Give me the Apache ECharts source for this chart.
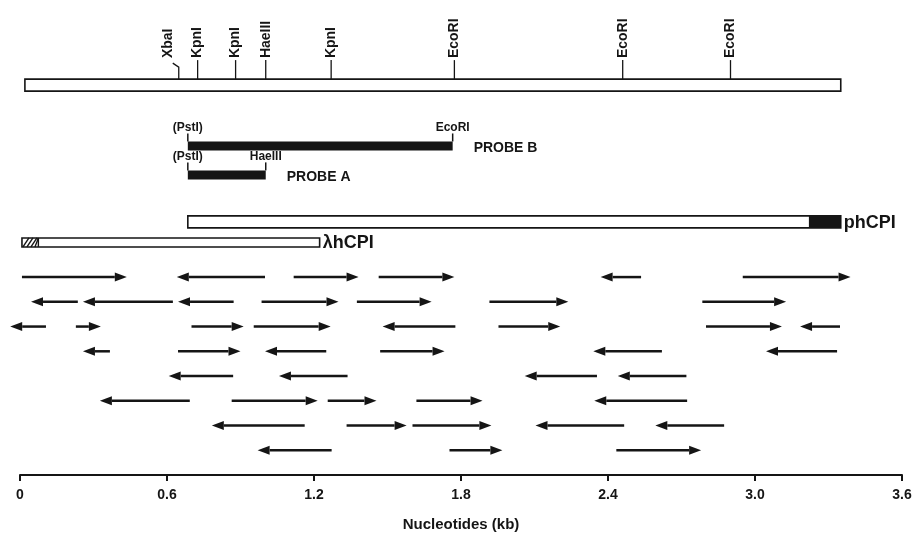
<!DOCTYPE html>
<html>
<head>
<meta charset="utf-8">
<script src="https://cdn.jsdelivr.net/npm/echarts@6/dist/echarts.min.js"></script>
<style>
  html, body { margin: 0; background: #fff; }
  #chart { width: 915px; height: 535px; }
</style>
</head>
<body>
<div id="chart"></div>
<script>
  // restriction sites on the genomic map (kb)
  const siteNames = ['XbaI', 'KpnI', 'KpnI', 'HaeIII', 'KpnI', 'EcoRI', 'EcoRI', 'EcoRI']
  const sitePos = [0.648, 0.725, 0.88, 1.003, 1.27, 1.773, 2.46, 2.9]
  const mapRange = [0.02, 3.35]

  // probes: [start, end] and their end labels
  const probeB = [0.685, 1.766]
  const probeBEnds = ['(PstI)', 'EcoRI']
  const probeA = [0.685, 1.003]
  const probeAEnds = ['(PstI)', 'HaeIII']

  // clones: open part then solid / hatched part
  const phCPI = [0.685, 3.22, 3.35]
  const lambdaHCPI = [0.008, 0.075, 1.223]

  // sequencing runs, one list per row from the top, each [tail, head] in kb
  const arrowRows = [
    [[0.008, 0.436], [1.0, 0.64], [1.117, 1.382], [1.464, 1.773], [2.535, 2.37], [2.95, 3.39]],
    [[0.236, 0.045], [0.624, 0.257], [0.872, 0.645], [0.986, 1.3], [1.375, 1.68], [1.916, 2.238], [2.785, 3.127]],
    [[0.106, -0.04], [0.228, 0.33], [0.7, 0.913], [0.954, 1.268], [1.777, 1.48], [1.953, 2.205], [2.8, 3.11], [3.347, 3.184]],
    [[0.367, 0.257], [0.645, 0.9], [1.25, 1.0], [1.47, 1.733], [2.62, 2.34], [3.335, 3.045]],
    [[0.87, 0.607], [1.337, 1.057], [2.355, 2.06], [2.72, 2.44]],
    [[0.693, 0.326], [0.864, 1.215], [1.256, 1.455], [1.618, 1.888], [2.723, 2.344]],
    [[1.162, 0.783], [1.333, 1.578], [1.602, 1.924], [2.466, 2.104], [2.874, 2.593]],
    [[1.272, 0.97], [1.753, 1.969], [2.434, 2.78]]
  ]

  const xTicks = [0, 0.6, 1.2, 1.8, 2.4, 3.0, 3.6]

  // vertical lanes (track index, bottom = axis)
  const lane = { map: 15.76, probeB: 13.3, probeA: 12.13, phCPI: 10.23, lambda: 9.4 }

  const INK = '#151515'
  const FONT = '"Liberation Sans", Arial, Helvetica, sans-serif'

  const arrowData = []
  arrowRows.forEach((row, r) => {
    row.forEach(a => arrowData.push([a[0], a[1], arrowRows.length - r]))
  })

  const chart = echarts.init(document.getElementById('chart'))

  chart.setOption({
    animation: false,
    grid: { left: 20, right: 13, top: 0, bottom: 60, containLabel: false, outerBoundsMode: 'none' },
    xAxis: {
      type: 'value',
      min: xTicks[0],
      max: xTicks[xTicks.length - 1],
      interval: 0.6,
      splitLine: { show: false },
      axisLine: { lineStyle: { color: INK, width: 2 } },
      axisTick: { length: 6, lineStyle: { color: INK, width: 2 } },
      axisLabel: {
        color: INK, fontFamily: FONT, fontWeight: 'bold', fontSize: 14, margin: 13,
        formatter: v => (v === 0 ? '0' : v.toFixed(1))
      },
      name: 'Nucleotides (kb)',
      nameLocation: 'middle',
      nameGap: 42,
      nameTextStyle: { color: INK, fontFamily: FONT, fontWeight: 'bold', fontSize: 15 }
    },
    yAxis: { type: 'value', min: 0, max: 19.2, show: false },
    series: [
      {
        // genomic map bar + sites
        type: 'custom',
        data: sitePos.map((p, i) => [p, lane.map, i]),
        encode: { x: 0, y: 1 },
        renderItem: (params, api) => {
          const i = params.dataIndex
          const c = api.coord([api.value(0), api.value(1)])
          const top = c[1] - 6
          const children = []
          if (i === 0) {
            const a = api.coord([mapRange[0], lane.map])
            const b = api.coord([mapRange[1], lane.map])
            children.push({
              type: 'rect', z2: 1,
              shape: { x: a[0], y: a[1] - 6, width: b[0] - a[0], height: 12 },
              style: { fill: '#fff', stroke: INK, lineWidth: 1.6 }
            })
          }
          const shift = i === 0 ? -11 : 0
          const pts = shift
            ? [[c[0], top], [c[0], top - 12], [c[0] + shift + 5, top - 16]]
            : [[c[0], top], [c[0], top - 19]]
          children.push({ type: 'polyline', shape: { points: pts }, style: { stroke: INK, lineWidth: 1.3, fill: null } })
          children.push({
            type: 'text', x: c[0] + shift, y: top - 21, rotation: Math.PI / 2,
            style: {
              text: siteNames[i], x: 0, y: 0, align: 'left', verticalAlign: 'middle',
              font: 'bold 14px ' + FONT, fill: INK
            }
          })
          return { type: 'group', children }
        }
      },
      {
        // probes
        type: 'custom',
        data: [[probeB[0], probeB[1], lane.probeB, 0], [probeA[0], probeA[1], lane.probeA, 1]],
        encode: { x: [0, 1], y: 2 },
        renderItem: (params, api) => {
          const ends = params.dataIndex === 0 ? probeBEnds : probeAEnds
          const name = params.dataIndex === 0 ? 'PROBE B' : 'PROBE A'
          const a = api.coord([api.value(0), api.value(2)])
          const b = api.coord([api.value(1), api.value(2)])
          const top = a[1] - 4.5
          const lbl = (t, x) => ({
            type: 'text', x, y: top - 8,
            style: { text: t, align: 'center', verticalAlign: 'bottom', font: 'bold 12px ' + FONT, fill: INK }
          })
          return {
            type: 'group',
            children: [
              { type: 'rect', shape: { x: a[0], y: top, width: b[0] - a[0], height: 9 }, style: { fill: INK } },
              { type: 'line', shape: { x1: a[0], y1: top, x2: a[0], y2: top - 8 }, style: { stroke: INK, lineWidth: 1.5 } },
              { type: 'line', shape: { x1: b[0], y1: top, x2: b[0], y2: top - 8 }, style: { stroke: INK, lineWidth: 1.5 } },
              lbl(ends[0], a[0]),
              lbl(ends[1], b[0]),
              {
                type: 'text', x: b[0] + 21, y: a[1] + 2,
                style: { text: name, align: 'left', verticalAlign: 'middle', font: 'bold 14px ' + FONT, fill: INK }
              }
            ]
          }
        }
      },
      {
        // clones
        type: 'custom',
        data: [[phCPI[0], phCPI[2], lane.phCPI, 0], [lambdaHCPI[0], lambdaHCPI[2], lane.lambda, 1]],
        encode: { x: [0, 1], y: 2 },
        renderItem: (params, api) => {
          const isPh = params.dataIndex === 0
          const v = isPh ? phCPI : lambdaHCPI
          const h = isPh ? 12 : 9
          const a = api.coord([v[0], api.value(2)])
          const m = api.coord([v[1], api.value(2)])
          const b = api.coord([v[2], api.value(2)])
          const top = a[1] - h / 2
          const children = [
            { type: 'rect', shape: { x: a[0], y: top, width: b[0] - a[0], height: h }, style: { fill: '#fff', stroke: INK, lineWidth: 1.6 } }
          ]
          if (isPh) {
            children.push({ type: 'rect', shape: { x: m[0], y: top, width: b[0] - m[0], height: h }, style: { fill: INK } })
          } else {
            children.push({ type: 'line', shape: { x1: m[0], y1: top, x2: m[0], y2: top + h }, style: { stroke: INK, lineWidth: 1.4 } })
            for (let k = 0; k < 4; k++) {
              const x0 = a[0] + 1 + k * 4
              children.push({
                type: 'line',
                shape: { x1: x0, y1: top + h, x2: Math.min(x0 + 6, m[0]), y2: top },
                style: { stroke: INK, lineWidth: 1.4 }
              })
            }
          }
          children.push({
            type: 'text', x: b[0] + 3, y: a[1] + 1,
            style: { text: isPh ? 'phCPI' : 'λhCPI', align: 'left', verticalAlign: 'middle', font: 'bold 18px ' + FONT, fill: INK }
          })
          return { type: 'group', children }
        }
      },
      {
        // sequencing arrows
        type: 'custom',
        data: arrowData,
        encode: { x: [0, 1], y: 2 },
        renderItem: (params, api) => {
          const a = api.coord([api.value(0), api.value(2)])
          const b = api.coord([api.value(1), api.value(2)])
          const dir = b[0] > a[0] ? 1 : -1
          const hx = b[0] - dir * 12
          return {
            type: 'group',
            children: [
              { type: 'line', shape: { x1: a[0], y1: a[1], x2: hx, y2: b[1] }, style: { stroke: INK, lineWidth: 2.5 } },
              { type: 'polygon', shape: { points: [[b[0], b[1]], [hx, b[1] - 4.5], [hx, b[1] + 4.5]] }, style: { fill: INK } }
            ]
          }
        }
      }
    ]
  })
</script>
</body>
</html>
